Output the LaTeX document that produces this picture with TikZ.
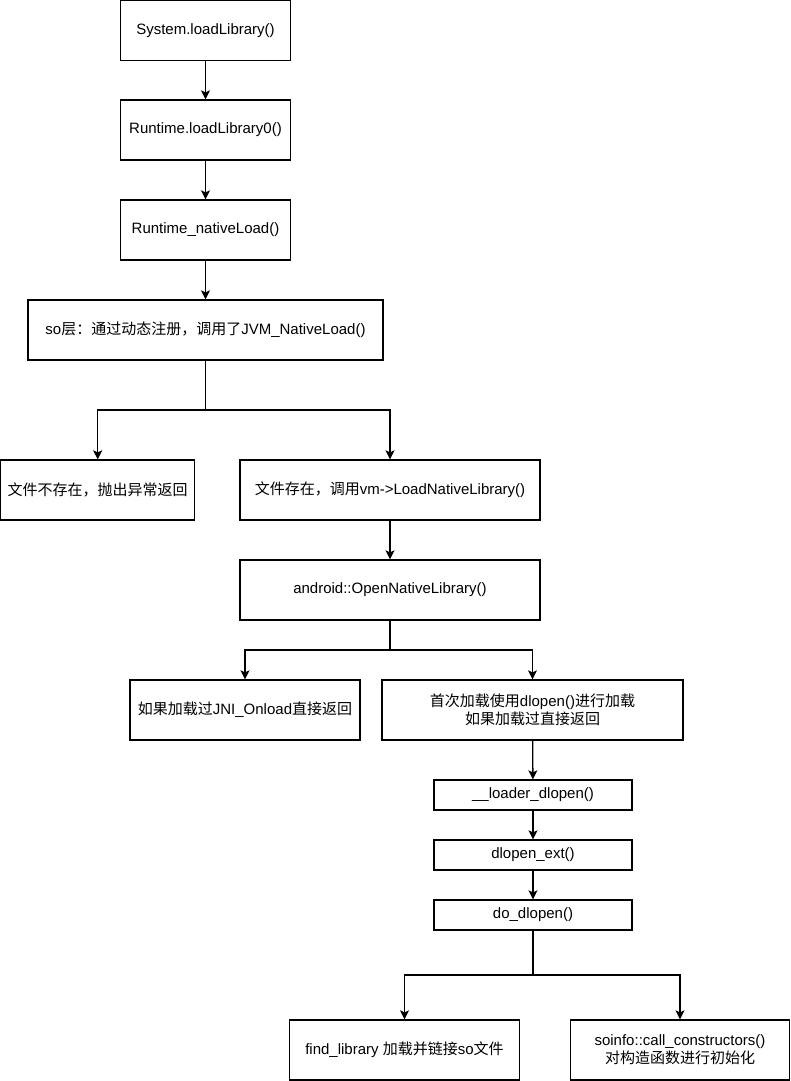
\documentclass[tikz,border=0pt]{standalone}
\usepackage{fontspec}
\setmainfont{Liberation Sans}
\newfontfamily\cjk{Noto Sans CJK SC}
\newcommand{\zh}[1]{{\cjk #1}}
\usetikzlibrary{arrows.meta}

\begin{document}
\begin{tikzpicture}[x=1pt, y=-1pt, line width=1.3pt, >={Stealth[length=9pt,width=9pt,inset=2pt]},
  step box/.style={rectangle, draw, minimum height=60pt, inner sep=2pt, align=center, font=\fontsize{15pt}{18pt}\selectfont},
  small box/.style={step box, minimum height=30pt}]
\useasboundingbox (0,0) rectangle (791,1081);
\begin{scope}
\node[step box, minimum width=170pt] (sysload) at (205.5,30.7) {System.loadLibrary()};
\node[step box, minimum width=170pt] (rtload) at (205.5,130) {Runtime.loadLibrary0()};
\node[step box, minimum width=170pt] (rtnative) at (205.5,230) {Runtime\_nativeLoad()};
\node[step box, minimum width=355pt] (solayer) at (205.5,330) {so\zh{层：通过动态注册，调用了}JVM\_NativeLoad()};
\node[step box, minimum width=194pt] (nofile) at (97.7,490) {\zh{文件不存在，抛出异常返回}};
\node[step box, minimum width=300pt] (fileok) at (390,490) {\zh{文件存在，调用}vm->LoadNativeLibrary()};
\node[step box, minimum width=300pt] (opennative) at (390,590) {android::OpenNativeLibrary()};
\node[step box, minimum width=230pt] (jnionload) at (245,710) {\zh{如果加载过}JNI\_Onload\zh{直接返回}};
\node[step box, minimum width=301pt] (firstload) at (532.5,710) {\zh{首次加载使用}dlopen()\zh{进行加载}\\\zh{如果加载过直接返回}};
\node[small box, minimum width=198pt] (loaderdl) at (533,795) {\_\_loader\_dlopen()};
\node[small box, minimum width=198pt] (dlext) at (533,855) {dlopen\_ext()};
\node[small box, minimum width=198pt] (dodl) at (533,915) {do\_dlopen()};
\node[step box, minimum width=230pt] (findlib) at (404.5,1050) {find\_library \zh{加载并链接}so\zh{文件}};
\node[step box, minimum width=219pt] (callctor) at (680,1050) {soinfo::call\_constructors()\\\zh{对构造函数进行初始化}};
%\node[step box] () at (,) {};
\end{scope}
\begin{scope}
\coordinate (split1) at (205.5,410);
\coordinate (split2) at (390,650);
\coordinate (split3) at (533,975);
\draw[->] (sysload) edge (rtload);
\draw[->] (rtload) edge (rtnative);
\draw[->] (rtnative) edge (solayer);
\draw[->] (solayer) -- (split1) -| (nofile);
\draw[->] (split1) -| (fileok);
\draw[->] (fileok) edge (opennative);
\draw[->] (opennative) -- (split2) -| (jnionload);
\draw[->] (split2) -| (firstload);
\draw[->] (firstload) edge (loaderdl);
\draw[->] (loaderdl) edge (dlext);
\draw[->] (dlext) edge (dodl);
\draw[->] (dodl) -- (split3) -| (findlib);
\draw[->] (split3) -| (callctor);
%\draw[->] () edge ();
\end{scope}
\end{tikzpicture}
\end{document}
